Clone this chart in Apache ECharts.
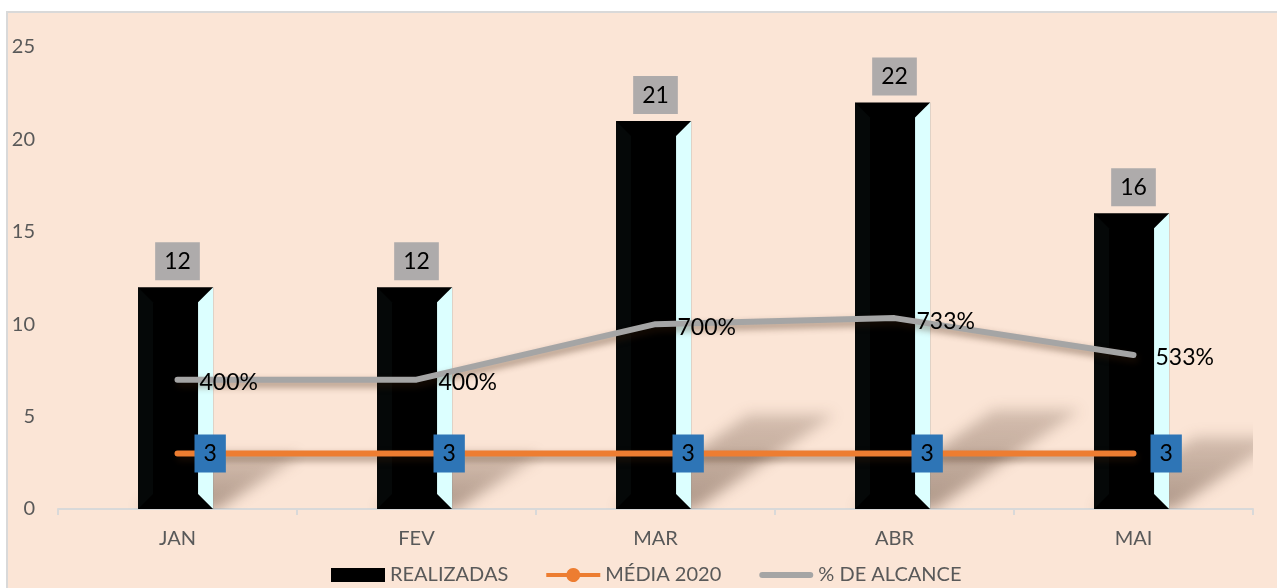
<!DOCTYPE html>
<html>
<head>
<meta charset="utf-8">
<script src="https://cdn.jsdelivr.net/npm/echarts@6/dist/echarts.min.js"></script>
<style>
  html, body { margin: 0; padding: 0; background: #ffffff; overflow: hidden; }
  #frame { position: absolute; left: 6px; top: 11px; width: 1300px; height: 600px;
           border-left: 2px solid #D9D9D9; border-top: 2px solid #D9D9D9; background: #FBE5D6; }
  #chart { position: absolute; left: 0; top: 0; width: 1277px; height: 588px; }
</style>
</head>
<body>
<div id="frame"></div>
<div id="chart"></div>
<script>
// ---- data ----
const categories = ['JAN', 'FEV', 'MAR', 'ABR', 'MAI'];
const realizadas = [12, 12, 21, 22, 16];
const media2020 = [3, 3, 3, 3, 3];
const alcancePct = [400, 400, 700, 733, 533];
const yTicks = [0, 5, 10, 15, 20, 25];
const seriesNames = ['REALIZADAS', 'MÉDIA 2020', '% DE ALCANCE'];

const FONT = 'Lato';
const chart = echarts.init(document.getElementById('chart'), null, { renderer: 'canvas' });

function renderBar(params, api) {
  const cat = api.value(0);
  const val = api.value(1);
  const top = api.coord([cat, val]);
  const base = api.coord([cat, 0]);
  const bw = api.size([1, 0])[0];
  const x = top[0], yTop = top[1], yBot = base[1], h = yBot - yTop;
  const l = x - 0.165 * bw, fr = x + 0.086 * bw, r = x + 0.149 * bw, d = 15;
  const dx = 0.34 * h, dy = 0.245 * h, OFF = 4000;
  const cs = params.coordSys;
  return {
    type: 'group',
    children: [
      { // blurred perspective shadow (shape drawn off-screen, only its shadow shows)
        type: 'polygon',
        shape: { points: [[l - OFF, yBot], [r + 4 - OFF, yBot], [r + dx + 12 - OFF, yBot - dy], [l + dx - OFF, yBot - dy]] },
        style: {
          fill: { type: 'linear', x: 0, y: 0, x2: 0, y2: 1,
                  colorStops: [{ offset: 0, color: 'rgba(0,0,0,0.5)' }, { offset: 1, color: 'rgba(0,0,0,1)' }] },
          shadowColor: 'rgba(70,45,30,0.42)', shadowBlur: 14, shadowOffsetX: OFF, shadowOffsetY: 0
        },
        clipPath: { type: 'rect', shape: { x: cs.x, y: cs.y, width: cs.width, height: cs.height } }
      },
      { type: 'rect', shape: { x: l, y: yTop, width: r - l, height: h }, style: { fill: '#000000' } },
      { type: 'polygon', shape: { points: [[l, yTop], [l + d, yTop + d], [l + d, yBot - d], [l, yBot]] }, style: { fill: '#050808' } },
      { type: 'polygon', shape: { points: [[fr, yTop + d], [r, yTop], [r, yBot], [fr, yBot - d]] }, style: { fill: '#DCFFFF' } },
      { type: 'text', x: x, y: yTop - 7,
        style: { text: String(val), fill: '#000000', font: '23px ' + FONT, align: 'center', verticalAlign: 'bottom',
                 backgroundColor: '#AEABAB', padding: [8, 9, 7, 9] } }
    ]
  };
}

const lineShadow = { shadowColor: 'rgba(60,30,10,0.45)', shadowBlur: 7, shadowOffsetX: 2, shadowOffsetY: 4 };

const option = {
  backgroundColor: 'transparent',
  animation: false,
  textStyle: { fontFamily: FONT },
  grid: { left: 58, right: 24, top: 47, bottom: 79 },
  legend: {
    left: 326, top: 560,
    itemWidth: 54, itemHeight: 14, itemGap: 38,
    symbolKeepAspect: true,
    textStyle: { color: '#595959', fontSize: 20, fontFamily: FONT },
    data: [
      { name: seriesNames[0], icon: 'rect' },
      { name: seriesNames[1], icon: 'path://M0,5 H20.3 A7,7 0 0 1 33.7,5 H54 V9 H33.7 A7,7 0 0 1 20.3,9 H0 Z' },
      { name: seriesNames[2], icon: 'path://M3,0 H51 A3,3 0 0 1 51,6 H3 A3,3 0 0 1 3,0 Z' }
    ]
  },
  xAxis: {
    type: 'category', data: categories, boundaryGap: true,
    axisLine: { lineStyle: { color: '#D9D9D9', width: 2 } },
    axisTick: { show: true, length: 6, lineStyle: { color: '#D9D9D9', width: 2 } },
    axisLabel: { color: '#595959', fontSize: 20, fontFamily: FONT, margin: 20 }
  },
  yAxis: [
    { type: 'value', min: yTicks[0], max: yTicks[yTicks.length - 1], interval: 5,
      axisLine: { show: false }, axisTick: { show: false }, splitLine: { show: false },
      axisLabel: { color: '#595959', fontSize: 20, fontFamily: FONT, margin: 23 } },
    { type: 'value', min: -300, max: 2200, show: false, splitLine: { show: false } }
  ],
  series: [
    {
      name: seriesNames[0], type: 'custom', z: 1,
      itemStyle: { color: '#000000' },
      encode: { x: 0, y: 1 },
      data: categories.map((c, i) => [i, realizadas[i]]),
      renderItem: renderBar
    },
    {
      name: seriesNames[1], type: 'line', z: 4, data: media2020,
      symbol: 'circle', symbolSize: 2, showSymbol: true,
      itemStyle: { color: '#ED7D31' },
      lineStyle: Object.assign({ color: '#ED7D31', width: 6, cap: 'round' }, lineShadow),
      label: { show: true, position: 'right', distance: 16, formatter: '{c}',
               color: '#000000', fontSize: 23, fontFamily: FONT,
               backgroundColor: '#2E75B6', padding: [8, 9, 7, 9] }
    },
    {
      name: seriesNames[2], type: 'line', z: 3, yAxisIndex: 1, data: alcancePct,
      symbol: 'circle', symbolSize: 2, showSymbol: true,
      itemStyle: { color: '#A5A5A5' },
      lineStyle: Object.assign({ color: '#A5A5A5', width: 6, cap: 'round' }, lineShadow),
      label: { show: true, position: 'right', distance: 21, offset: [0, 3], formatter: '{c}%',
               color: '#000000', fontSize: 23, fontFamily: FONT }
    }
  ]
};
chart.setOption(option);
</script>
</body>
</html>
